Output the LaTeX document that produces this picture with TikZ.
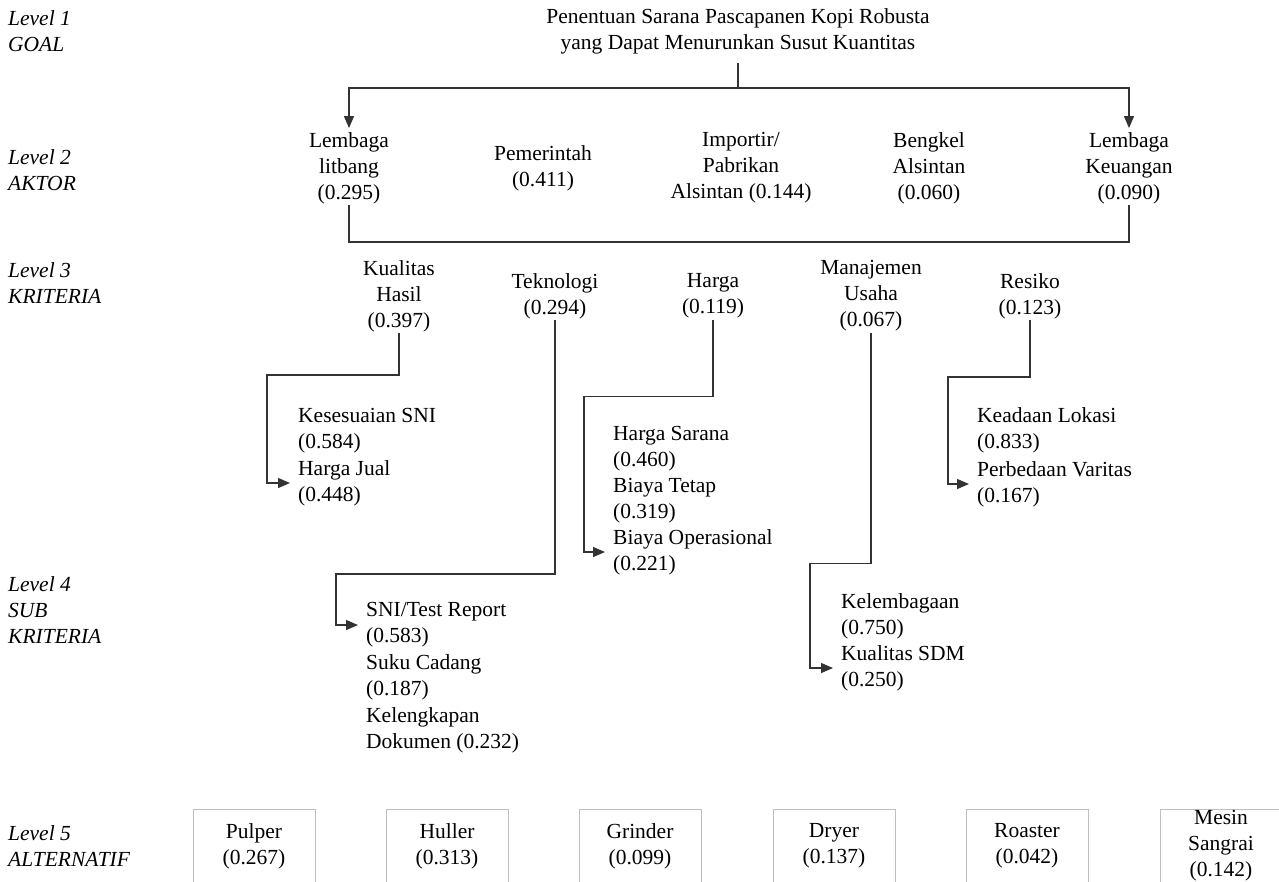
\documentclass[tikz,border=0pt]{standalone}
\usepackage{fontspec}
\setmainfont{Liberation Serif}
\usetikzlibrary{arrows.meta}
\begin{document}
\begin{tikzpicture}[x=1pt,y=-1pt,
  txt/.style={align=center,inner sep=1pt},
  sub/.style={align=left,anchor=west,inner sep=1pt},
  lvl/.style={align=left,anchor=west,inner sep=0pt,font=\fontsize{21.5}{26}\selectfont\itshape},
  trait/.style={draw=black!80,line width=1.3pt},
  fl/.style={trait,-{Triangle[length=12pt,width=10pt]},shorten >=7pt},
  alt/.style={draw=black!25,line width=0.8pt,minimum width=122pt,minimum height=74pt,inner ysep=0pt,align=center}]
\fontsize{21.5}{26}\selectfont
\useasboundingbox (0,0) rectangle (1279,881);%cadre
%niveaux
\node[lvl] (l1) at (8,31) {Level 1\\GOAL};
\node[lvl] (l2) at (8,170) {Level 2\\AKTOR};
\node[lvl] (l3) at (8,283) {Level 3\\KRITERIA};
\node[lvl] (l4) at (8,610) {Level 4\\SUB\\KRITERIA};
\node[lvl] (l5) at (8,846) {Level 5\\ALTERNATIF};
%but
\node[txt] (goal) at (738,31) {Penentuan Sarana Pascapanen Kopi Robusta\\yang Dapat Menurunkan Susut Kuantitas};
%aktor
\node[txt] (litbang) at (349,168) {Lembaga\\litbang\\(0.295)};
\node[txt] (pemerintah) at (543,168) {Pemerintah\\(0.411)};
\node[txt] (importir) at (741,168) {Importir/\\Pabrikan\\Alsintan (0.144)};
\node[txt] (bengkel) at (929,168) {Bengkel\\Alsintan\\(0.060)};
\node[txt] (keuangan) at (1129,168) {Lembaga\\Keuangan\\(0.090)};
\coordinate (bar) at (738,88);
\draw[trait,shorten <=8pt] (goal.south) -- (bar);
\draw[fl,shorten >=3pt] (bar) -| (litbang);
\draw[fl,shorten >=3pt] (bar) -| (keuangan);
\draw[trait] (litbang.south) -- ++(0,37) -| (keuangan.south);
%kriteria
\node[txt] (kualitas) at (399,296) {Kualitas\\Hasil\\(0.397)};
\node[txt] (teknologi) at (555,296) {Teknologi\\(0.294)};
\node[txt] (harga) at (713,296) {Harga\\(0.119)};
\node[txt] (manajemen) at (871,296) {Manajemen\\Usaha\\(0.067)};
\node[txt] (resiko) at (1030,296) {Resiko\\(0.123)};
%sub kriteria
\node[sub] (kes) at (297,431) {Kesesuaian SNI\\(0.584)};
\node[sub] (jual) at (297,483) {Harga Jual\\(0.448)};
\node[sub] (sni) at (365,625) {SNI/Test Report\\(0.583)};
\node[sub] (suku) at (365,677) {Suku Cadang\\(0.187)};
\node[sub] (dok) at (365,730) {Kelengkapan\\Dokumen (0.232)};
\node[sub] (sarana) at (612,449) {Harga Sarana\\(0.460)};
\node[sub] (tetap) at (612,501) {Biaya Tetap\\(0.319)};
\node[sub] (oper) at (612,552) {Biaya Operasional\\(0.221)};
\node[sub] (lemb) at (840,616) {Kelembagaan\\(0.750)};
\node[sub] (sdm) at (840,668) {Kualitas SDM\\(0.250)};
\node[sub] (lokasi) at (976,430) {Keadaan Lokasi\\(0.833)};
\node[sub] (varitas) at (976,484) {Perbedaan Varitas\\(0.167)};
\draw[fl] (kualitas.south) -- ++(0,42) -| ([xshift=-30pt]jual.west) -- (jual.west);
\draw[fl] (teknologi.south) -- ++(0,254) -| ([xshift=-29pt]sni.west) -- (sni.west);
\draw[fl] (harga.south) -- ++(0,77) -| ([xshift=-28pt]oper.west) -- (oper.west);
\draw[fl] (manajemen.south) -- ++(0,231) -| ([xshift=-30pt]sdm.west) -- (sdm.west);
\draw[fl] (resiko.south) -- ++(0,57) -| ([xshift=-28pt]varitas.west) -- (varitas.west);
%alternatif
\node[alt] (pulper) at (254,846) {Pulper\\(0.267)};
\node[alt] (huller) at (447,846) {Huller\\(0.313)};
\node[alt] (grinder) at (640,846) {Grinder\\(0.099)};
\node[alt] (dryer) at (834,846) {Dryer\\(0.137)};
\node[alt] (roaster) at (1027,846) {Roaster\\(0.042)};
\node[alt] (sangrai) at (1221,846) {Mesin\\Sangrai\\(0.142)};
\end{tikzpicture}
\end{document}
